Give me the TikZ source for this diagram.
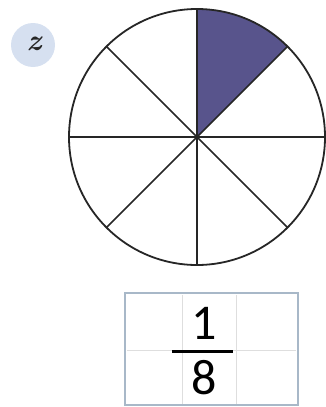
\documentclass[tikz,border=0pt]{standalone}
\usepackage{fontspec}
\newfontfamily\calib{Carlito}
\definecolor{sector}{RGB}{88,84,140}
\definecolor{badge}{RGB}{214,224,240}
\definecolor{frameblue}{RGB}{168,184,200}
\definecolor{gridgrey}{RGB}{222,222,222}
\tikzset{spoke/.style={line width=1.6pt,black!85},
  cellline/.style={line width=1pt,gridgrey}}
\begin{document}
\begin{tikzpicture}[x=1pt,y=-1pt]
\useasboundingbox (0,0) rectangle (325,407);
% badge
\node[circle,fill=badge,minimum size=44pt,inner sep=0pt] (badge) at (33,45) {};
\node[font=\fontsize{30}{30}\selectfont\bfseries\itshape,text=black!85,inner sep=0pt] (z) at (34,44) {z};
% circle
\coordinate (c) at (197,137);
\fill[sector] (c) -- ++(0,-128) arc[start angle=-90,end angle=-45,radius=128] -- cycle;
\foreach \a in {0,45,...,315} \draw[spoke] (c) -- ++(\a:128);
\draw[line width=1.8pt,black!85] (c) circle[radius=128];
% box
\draw[cellline] (182,295) -- (182,404) (236,295) -- (236,404) (127,350) -- (296,350);
\draw[line width=2.5pt,frameblue] (125,293) rectangle (298,405);
\node[font=\calib\fontsize{50}{50}\selectfont,inner sep=0pt] (num) at (204,323) {1};
\node[font=\calib\fontsize{50}{50}\selectfont,inner sep=0pt] (den) at (204,378) {8};
\draw[line width=3pt,black] (172,351) -- (233,351);
\end{tikzpicture}
\end{document}
